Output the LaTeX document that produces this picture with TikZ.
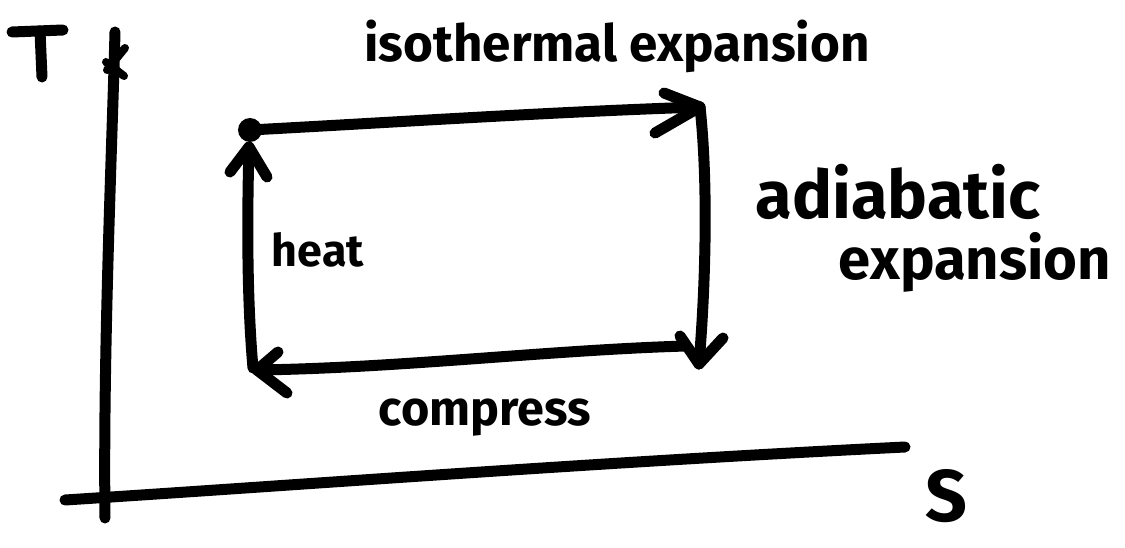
\documentclass[tikz,border=0pt]{standalone}
\usepackage{fontspec}
\setmainfont{Fira Sans}
\usepackage{graphicx}
\begin{document}
\begin{tikzpicture}[x=1pt,y=-1pt,
  stroke/.style={line width=11pt, line cap=round, line join=round},
  thin stroke/.style={line width=8pt, line cap=round, line join=round},
  lbl/.style={inner sep=0pt, font=\bfseries}]
\useasboundingbox (0,0) rectangle (1125,548);
% axes
\coordinate (ytop) at (115,32);
\coordinate (ybot) at (105,518);
\coordinate (xl) at (65,500);
\coordinate (xr) at (905,447);
\draw[stroke] (ytop) .. controls (112,150) and (103,350) .. (ybot);
\draw[stroke] (xl) .. controls (300,485) and (600,462) .. (xr);
\coordinate (tick) at (112,62);
\draw[thin stroke] (tick) ++(13,-14) -- ++(-18,22);
\draw[thin stroke] (tick) ++(-6,0) -- ++(18,14);
% axis letters
\draw[stroke] (12,32) -- (63,30);
\draw[stroke] (40,31) -- (42,77);
\node[lbl] (S) at (946,496) {\resizebox{!}{52pt}{S}};
% cycle corners
\coordinate (A) at (250,130);
\coordinate (B) at (700,107);
\coordinate (C) at (699,364);
\coordinate (D) at (686,346);
\coordinate (E) at (257,370);
\coordinate (F) at (253,368);
\coordinate (G) at (249,147);
\fill (A) circle (12);
% top: isothermal expansion
\draw[stroke] (A) .. controls (400,122) and (550,112) .. (B);
\draw[stroke] (B) -- (664,93);
\draw[stroke] (B) -- (655,133);
% right: adiabatic expansion
\draw[stroke] (B) .. controls (708,180) and (706,280) .. (C);
\draw[stroke] (C) -- (680,336);
\draw[stroke] (C) -- (723,338);
% bottom: compress
\draw[stroke] (D) .. controls (550,350) and (400,368) .. (E);
\draw[stroke] (E) -- (278,352);
\draw[stroke] (E) -- (287,393);
% left: heat
\draw[stroke] (F) .. controls (247,300) and (247,220) .. (G);
\draw[stroke] (G) -- (230,172);
\draw[stroke] (G) -- (267,177);
% labels
\node[lbl] (iso) at (617,46) {\resizebox{505pt}{!}{isothermal expansion}};
\node[lbl] (adi1) at (898,192) {\resizebox{285pt}{!}{adiabatic}};
\node[lbl] (adi2) at (975,262) {\resizebox{272pt}{!}{expansion}};
\node[lbl] (heat) at (318,250) {\resizebox{92pt}{!}{heat}};
\node[lbl] (comp) at (485,418) {\resizebox{212pt}{!}{compress}};
\end{tikzpicture}
\end{document}
